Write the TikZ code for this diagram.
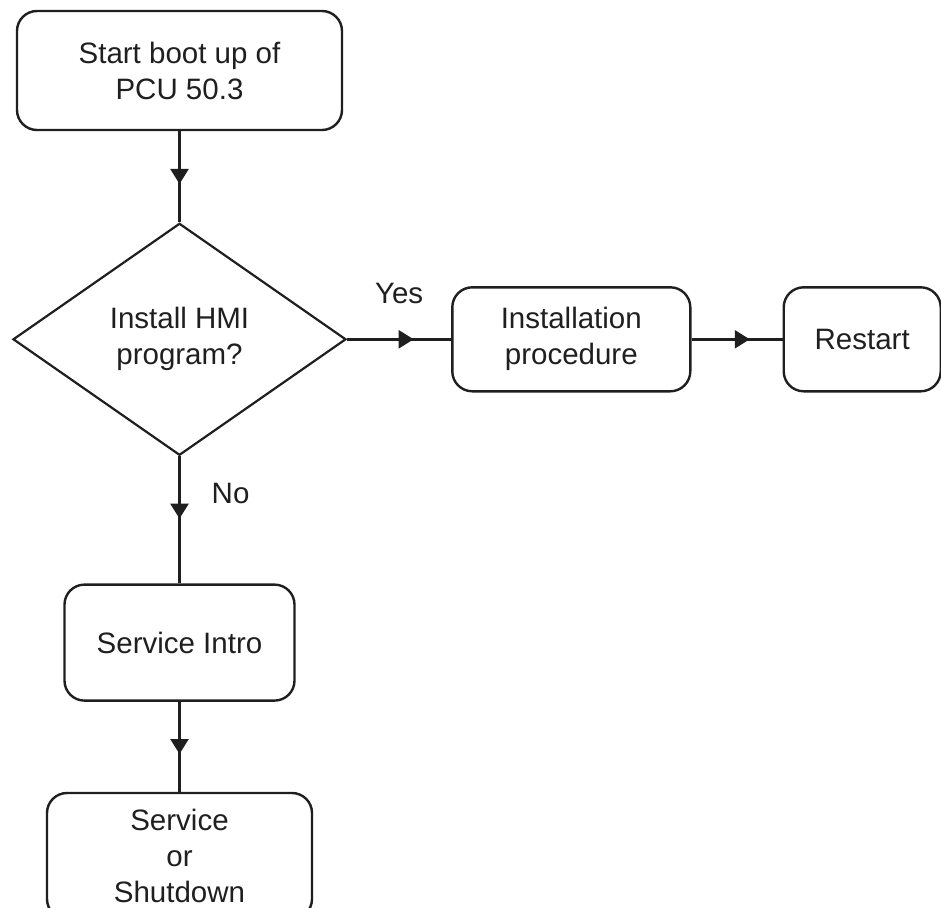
\documentclass[tikz,border=0pt]{standalone}
\usepackage{fontspec}
\setmainfont{Liberation Sans}
\usetikzlibrary{arrows.meta, positioning, shapes.geometric, decorations.markings}

\begin{document}
\begin{tikzpicture}[
  x=1pt, y=-1pt,
  box/.style={rectangle, rounded corners=20pt, draw=black!88, line width=2.4pt, align=center, text=black!88, font=\fontsize{29.5}{36}\selectfont},
  decision/.style={diamond, draw=black!88, line width=2.2pt, inner sep=0pt, align=center, text=black!88, font=\fontsize{29.5}{36}\selectfont},
  arr/.style={line width=2.4pt, draw=black!88, postaction={decorate},
    decoration={markings, mark=at position #1 with {\arrow{Triangle[length=15pt,width=18pt]}}}},
  arr/.default=0.58,
  lbl/.style={inner sep=0pt, text=black!88, font=\fontsize{29.5}{36}\selectfont}
]
\useasboundingbox (0,0) rectangle (941,907);

\node[box, minimum width=325pt, minimum height=119pt] (start) at (179.5,70.5) {Start boot up of\\PCU 50.3};
\node[decision, minimum width=333pt, minimum height=232pt, below=91pt of start] (hmi) {Install HMI\\program?};
\node[box, minimum width=238pt, minimum height=104pt, right=104pt of hmi] (setup) {Installation\\procedure};
\node[box, minimum width=157pt, minimum height=104pt, right=91pt of setup] (restart) {Restart};
\node[box, minimum width=230pt, minimum height=116pt, below=127pt of hmi] (intro) {Service Intro};
\node[box, minimum width=265pt, minimum height=126pt, below=90pt of intro] (service) {Service\\or\\Shutdown};

% Yes / No branches
\draw[arr] (start) to (hmi);
\draw[arr=0.64] (hmi) to node[lbl, above=34pt] {Yes} (setup);
\draw[arr=0.64] (setup) to (restart);
\draw[arr=0.49] (hmi) to node[lbl, pos=0.29, right=31pt] {No} (intro);
\draw[arr] (intro) to (service);
\end{tikzpicture}
\end{document}
